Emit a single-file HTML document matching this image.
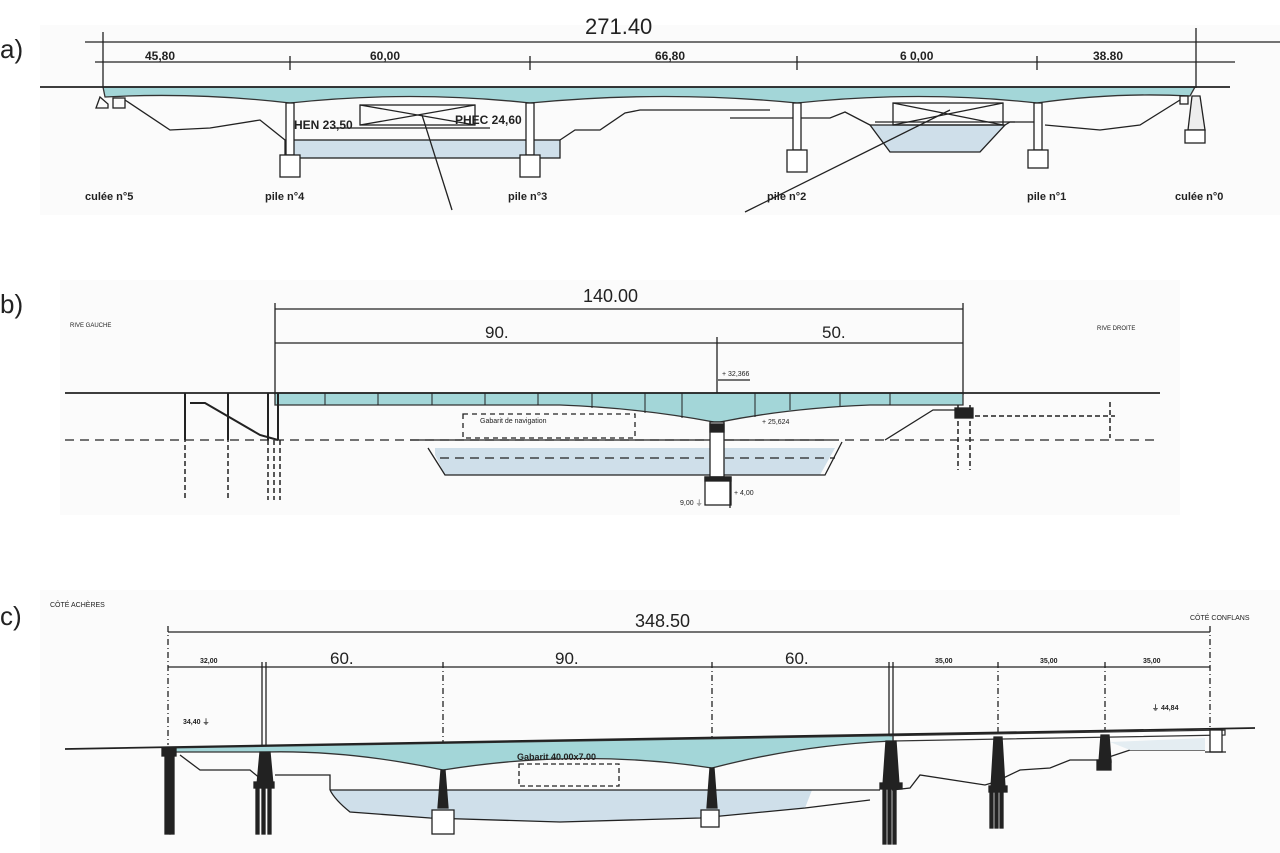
<!DOCTYPE html>
<html><head><meta charset="utf-8"><style>
html,body{margin:0;padding:0;background:#fff;}
svg{display:block;font-family:"Liberation Sans",sans-serif;}
</style></head><body>
<svg width="1280" height="853" viewBox="0 0 1280 853" xmlns="http://www.w3.org/2000/svg">
<rect width="1280" height="853" fill="#fff"/>
<rect x="40" y="25" width="1240" height="190" fill="#fbfbfb"/>
<rect x="60" y="280" width="1120" height="235" fill="#fbfbfb"/>
<rect x="40" y="590" width="1240" height="263" fill="#fbfbfb"/>
<g stroke="#222" fill="none" stroke-width="1.3">
<!-- ===== Panel a ===== -->
<text x="0" y="58" font-size="26" fill="#222" stroke="none">a)</text>
<text x="585" y="34" font-size="22" fill="#222" stroke="none">271.40</text>
<line x1="85" y1="42" x2="1280" y2="42"/>
<line x1="95" y1="62" x2="1235" y2="62"/>
<line x1="103" y1="32" x2="103" y2="88"/><line x1="1196" y1="28" x2="1196" y2="88"/>
<line x1="290" y1="56" x2="290" y2="70"/><line x1="530" y1="56" x2="530" y2="70"/><line x1="797" y1="56" x2="797" y2="70"/><line x1="1037" y1="56" x2="1037" y2="70"/>
<g font-size="12" fill="#222" stroke="none" font-weight="bold">
<text x="145" y="60">45,80</text><text x="370" y="60">60,00</text><text x="655" y="60">66,80</text><text x="900" y="60">6 0,00</text><text x="1093" y="60">38.80</text>
<text x="85" y="200" font-size="11">culée n°5</text><text x="265" y="200" font-size="11">pile n°4</text><text x="508" y="200" font-size="11">pile n°3</text><text x="767" y="200" font-size="11">pile n°2</text><text x="1027" y="200" font-size="11">pile n°1</text><text x="1175" y="200" font-size="11">culée n°0</text>
<text x="286" y="129">PHEN 23,50</text><text x="455" y="124">PHEC 24,60</text>
</g>
<path d="M103,87 L1195,87 L1190,96 Q1115,92 1037,103 Q920,90 797,103 Q665,90 530,103 Q410,90 290,103 Q195,92 105,97 Z" fill="#a3d6d8" stroke="#333"/>
<line x1="40" y1="87" x2="1230" y2="87" stroke-width="1.8"/>
<path d="M100,97 L108,104 L108,108 L96,108 Z"/><rect x="113" y="98" width="12" height="10"/>
<path d="M125,100 L170,130 L210,128 L260,120 L285,140"/>
<path d="M560,140 L575,130 L600,130 L625,113 L640,110 L770,110"/>
<path d="M730,118 L830,118 L845,112 L870,125"/>
<path d="M1005,125 L1010,122 L1035,122"/>
<path d="M1045,125 L1100,130 L1140,125 L1180,100"/>
<rect x="285" y="140" width="275" height="18" fill="#cfdfea"/>
<path d="M870,125 L890,152 L980,152 L1005,125 Z" fill="#cfdfea"/>
<!-- piers a -->
<rect x="286" y="103" width="8" height="52" fill="#fff"/><rect x="280" y="155" width="20" height="22" fill="#fff"/>
<rect x="526" y="103" width="8" height="52" fill="#fff"/><rect x="520" y="155" width="20" height="22" fill="#fff"/>
<rect x="793" y="103" width="8" height="47" fill="#fff"/><rect x="787" y="150" width="20" height="22" fill="#fff"/>
<rect x="1034" y="103" width="8" height="47" fill="#fff"/><rect x="1028" y="150" width="20" height="18" fill="#fff"/>
<path d="M1192,96 L1200,96 L1205,130 L1188,130 Z" fill="#eee"/><rect x="1185" y="130" width="20" height="13" fill="#fff"/>
<rect x="1180" y="96" width="8" height="8"/>
<rect x="360" y="105" width="115" height="20"/><line x1="360" y1="105" x2="475" y2="125"/><line x1="475" y1="105" x2="360" y2="125"/>
<line x1="330" y1="128" x2="490" y2="128"/>
<line x1="422" y1="115" x2="452" y2="210"/>
<rect x="893" y="103" width="110" height="22"/><line x1="893" y1="103" x2="1003" y2="125"/><line x1="1003" y1="103" x2="893" y2="125"/>
<line x1="875" y1="122" x2="1015" y2="122"/>
<line x1="950" y1="110" x2="745" y2="212"/>
<!-- ===== Panel b ===== -->
<text x="0" y="313" font-size="26" fill="#222" stroke="none">b)</text>
<text x="583" y="302" font-size="18" fill="#222" stroke="none">140.00</text>
<line x1="275" y1="309" x2="963" y2="309"/>
<line x1="275" y1="343" x2="963" y2="343"/>
<line x1="275" y1="303" x2="275" y2="395"/><line x1="963" y1="303" x2="963" y2="395"/><line x1="717" y1="337" x2="717" y2="405"/>
<text x="485" y="338" font-size="17" fill="#222" stroke="none">90.</text>
<text x="822" y="338" font-size="17" fill="#222" stroke="none">50.</text>
<text x="70" y="327" font-size="6" fill="#222" stroke="none">RIVE GAUCHE</text>
<text x="1097" y="330" font-size="6" fill="#222" stroke="none">RIVE DROITE</text>
<path d="M275,393 L963,393 L963,405 L870,405 Q790,408 720,422 L714,422 Q640,408 560,405 L275,405 Z" fill="#a3d6d8" stroke="#333"/>
<line x1="65" y1="393" x2="1160" y2="393" stroke-width="1.8"/>
<g stroke-width="1">
<line x1="325" y1="393" x2="325" y2="405"/><line x1="378" y1="393" x2="378" y2="405"/><line x1="432" y1="393" x2="432" y2="405"/><line x1="485" y1="393" x2="485" y2="405"/><line x1="538" y1="393" x2="538" y2="405"/><line x1="592" y1="393" x2="592" y2="408"/><line x1="645" y1="393" x2="645" y2="413"/><line x1="682" y1="393" x2="682" y2="418"/><line x1="755" y1="393" x2="755" y2="417"/><line x1="790" y1="393" x2="790" y2="410"/><line x1="840" y1="393" x2="840" y2="406"/><line x1="890" y1="393" x2="890" y2="405"/>
</g>
<path d="M410,440 L830,440" />
<path d="M435,455 L445,475 L820,475 L835,448 L435,448 Z" fill="#cfdfea" stroke="none"/>
<path d="M428,448 L445,475 L825,475 L842,442"/>
<line x1="65" y1="440" x2="1160" y2="440" stroke-dasharray="9,6"/>
<line x1="440" y1="458" x2="835" y2="458" stroke-dasharray="9,6"/>
<rect x="463" y="414" width="172" height="24" stroke-dasharray="5,4"/>
<text x="480" y="423" font-size="7" fill="#222" stroke="none">Gabarit de navigation</text>
<rect x="710" y="422" width="14" height="55" fill="#fff"/><rect x="710" y="424" width="14" height="8" fill="#222"/>
<rect x="705" y="477" width="26" height="28" fill="#fff"/><rect x="705" y="477" width="26" height="4" fill="#222"/>
<line x1="730" y1="480" x2="730" y2="508"/>
<text x="680" y="505" font-size="7" fill="#222" stroke="none">9,00 ⏚</text><text x="734" y="495" font-size="7" fill="#222" stroke="none">+ 4,00</text>
<text x="722" y="376" font-size="7" fill="#222" stroke="none">+ 32,366</text><line x1="718" y1="380" x2="750" y2="380"/>
<text x="762" y="424" font-size="7" fill="#222" stroke="none">+ 25,624</text>
<path d="M185,393 L185,440 M228,393 L228,440 M190,403 L205,403 L260,435 L278,440 M268,393 L268,440 M278,393 L278,440" stroke-width="2"/>
<g stroke-dasharray="5,3" stroke-width="1.5">
<line x1="185" y1="405" x2="185" y2="500"/><line x1="228" y1="405" x2="228" y2="500"/>
<line x1="268" y1="440" x2="268" y2="500"/><line x1="274" y1="440" x2="274" y2="500"/><line x1="280" y1="440" x2="280" y2="500"/>
<line x1="958" y1="405" x2="958" y2="470"/><line x1="970" y1="405" x2="970" y2="470"/>
<line x1="975" y1="416" x2="1115" y2="416"/><line x1="1110" y1="402" x2="1110" y2="438"/>
</g>
<path d="M885,440 L933,410 L955,410"/>
<rect x="955" y="408" width="18" height="10" fill="#222"/>
<!-- ===== Panel c ===== -->
<text x="0" y="625" font-size="26" fill="#222" stroke="none">c)</text>
<text x="635" y="627" font-size="18" fill="#222" stroke="none">348.50</text>
<text x="50" y="607" font-size="7" fill="#222" stroke="none">CÔTÉ ACHÈRES</text>
<text x="1190" y="620" font-size="7" fill="#222" stroke="none">CÔTÉ CONFLANS</text>
<line x1="168" y1="632" x2="1210" y2="632"/>
<line x1="168" y1="667" x2="1210" y2="667"/>
<g stroke-dasharray="6,3,1,3"><line x1="168" y1="626" x2="168" y2="745"/><line x1="1210" y1="626" x2="1210" y2="728"/><line x1="443" y1="662" x2="443" y2="742"/><line x1="712" y1="662" x2="712" y2="738"/><line x1="998" y1="662" x2="998" y2="733"/><line x1="1105" y1="662" x2="1105" y2="730"/></g>
<line x1="262" y1="662" x2="262" y2="745"/><line x1="266" y1="662" x2="266" y2="745"/>
<line x1="889" y1="662" x2="889" y2="735"/><line x1="893" y1="662" x2="893" y2="735"/>
<g font-size="7" fill="#222" stroke="none" font-weight="bold"><text x="200" y="663">32,00</text><text x="935" y="663">35,00</text><text x="1040" y="663">35,00</text><text x="1143" y="663">35,00</text>
<text x="183" y="724">34,40 ⏚</text><text x="1152" y="710">⏚ 44,84</text></g>
<g font-size="17" fill="#222" stroke="none"><text x="330" y="664">60.</text><text x="555" y="664">90.</text><text x="785" y="664">60.</text></g>
<path d="M893,735.6 L1225,730 L1225,735 L893,741 Z" fill="#fff" stroke="#333"/>
<path d="M165,748 L893,735.6 L893,741 Q800,745 712,768 Q580,748 443,770 Q350,750 265,752 L165,752 Z" fill="#a3d6d8" stroke="#333"/>
<line x1="65" y1="749" x2="1255" y2="728" stroke-width="1.8"/>
<path d="M330,790 Q335,800 350,812 L430,818 L560,822 L700,818 L805,808 L812,790 Z" fill="#cfdfea" stroke="none"/>
<path d="M330,790 L880,790"/><path d="M330,790 Q335,800 350,812 L430,818 L560,822 L700,818 L805,808 L870,800"/>
<path d="M275,775 L330,775 L330,790"/>
<path d="M180,755 L200,770 L250,770 L262,780"/>
<path d="M892,790 L910,788 L920,775 L985,785 L995,782 L1020,770 L1050,768 L1070,760 L1100,760 L1130,750 L1205,750"/>
<path d="M1110,742 L1205,738 L1205,750 L1130,750 Z" fill="#e4edf2" stroke="none"/>
<rect x="519" y="764" width="100" height="22" stroke-dasharray="5,3"/>
<text x="517" y="760" font-size="9" fill="#222" stroke="none" font-weight="bold">Gabarit 40.00x7.00</text>
<!-- piers c -->
<g fill="#222">
<rect x="162" y="748" width="14" height="8"/><rect x="165" y="756" width="5" height="78"/><rect x="170" y="756" width="4" height="78"/>
<path d="M260,752 L270,752 L273,785 L257,785 Z"/><rect x="254" y="782" width="20" height="6"/><rect x="256" y="788" width="3" height="46"/><rect x="262" y="788" width="3" height="46"/><rect x="268" y="788" width="3" height="46"/>
<path d="M441,770 L445,770 L448,808 L438,808 Z"/>
<path d="M710,768 L714,768 L717,808 L707,808 Z"/>
<path d="M886,741 L896,741 L899,785 L883,785 Z"/><rect x="880" y="783" width="22" height="6"/><rect x="883" y="789" width="3" height="55"/><rect x="888" y="789" width="3" height="55"/><rect x="893" y="789" width="3" height="55"/>
<path d="M994,737 L1002,737 L1005,788 L991,788 Z"/><rect x="989" y="786" width="18" height="6"/><rect x="990" y="792" width="3" height="36"/><rect x="995" y="792" width="3" height="36"/><rect x="1000" y="792" width="3" height="36"/>
<path d="M1101,735 L1109,735 L1111,762 L1099,762 Z"/><rect x="1097" y="760" width="14" height="10"/>
</g>
<rect x="432" y="810" width="22" height="24" fill="#fff"/><rect x="701" y="810" width="18" height="17" fill="#fff"/>
<rect x="1210" y="730" width="12" height="22" fill="#fff"/><line x1="1205" y1="752" x2="1226" y2="752"/>
</g>
</svg>
</body></html>
